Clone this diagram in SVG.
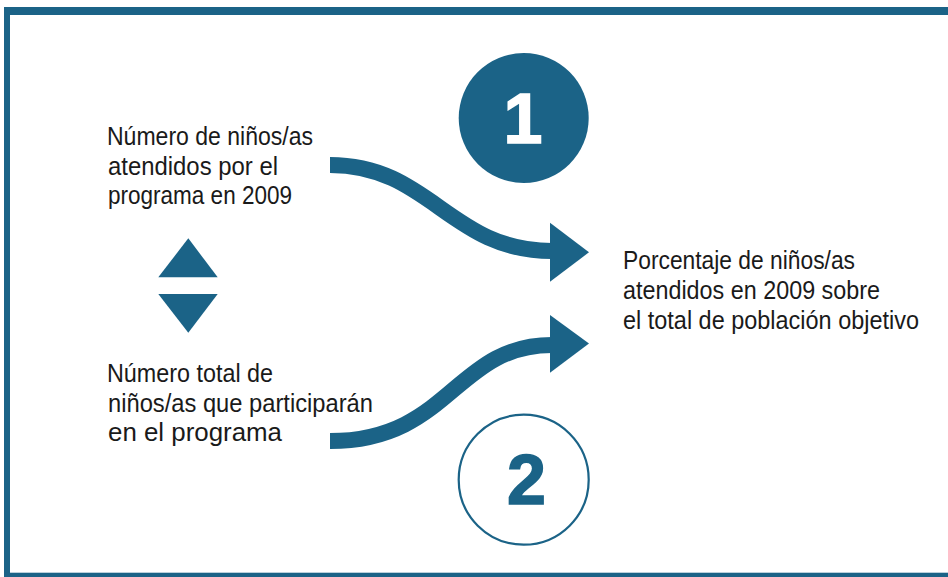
<svg xmlns="http://www.w3.org/2000/svg" width="948" height="577" viewBox="0 0 948 577">
<style>
.t{font-family:"Liberation Sans",Arial,sans-serif;font-size:26px;fill:#1a1a1a}
.b{fill:#1b6387}
.num{font-family:"Liberation Sans",Arial,sans-serif;font-weight:bold;font-size:70px;text-anchor:middle}
.flow{fill:none;stroke:#1b6387;stroke-width:16}
</style>
<rect width="948" height="577" fill="#fff"/>
<g id="frame" class="b">
<rect x="4" y="7" width="944" height="8"/>
<rect x="4" y="7" width="6" height="570"/>
<rect x="4" y="572.7" width="944" height="5"/>
</g>
<g id="connectors">
<path class="flow" d="M330,165 C430,165 450,251 552,251"/>
<polygon class="b" points="550,222.7 589,252.3 550,281.7"/>
<path class="flow" d="M330,441 C450,441 455,345 552,345"/>
<polygon class="b" points="550,315 589,343.5 550,372.7"/>
</g>
<g id="node-numerator">
<text class="t" x="107" y="145" textLength="206" lengthAdjust="spacingAndGlyphs">Número de niños/as</text>
<text class="t" x="108" y="174.5" textLength="170" lengthAdjust="spacingAndGlyphs">atendidos por el</text>
<text class="t" x="108" y="204.3" textLength="184" lengthAdjust="spacingAndGlyphs">programa en 2009</text>
</g>
<g id="node-swap" class="b">
<polygon points="188.3,238.3 217.7,277.3 158.3,277.3"/>
<polygon points="158.3,294 217.7,294 188.3,332.7"/>
</g>
<g id="node-denominator">
<text class="t" x="107" y="381.7" textLength="166" lengthAdjust="spacingAndGlyphs">Número total de</text>
<text class="t" x="108" y="411.7" textLength="265" lengthAdjust="spacingAndGlyphs">niños/as que participarán</text>
<text class="t" x="108" y="441" textLength="174" lengthAdjust="spacingAndGlyphs">en el programa</text>
</g>
<g id="node-result">
<text class="t" x="623" y="269.3" textLength="232" lengthAdjust="spacingAndGlyphs">Porcentaje de niños/as</text>
<text class="t" x="623" y="299.3" textLength="257" lengthAdjust="spacingAndGlyphs">atendidos en 2009 sobre</text>
<text class="t" x="623" y="329.3" textLength="296" lengthAdjust="spacingAndGlyphs">el total de población objetivo</text>
</g>
<g id="node-1">
<circle cx="523.7" cy="118" r="65" class="b"/>
<text class="num" x="523" y="143" fill="#fff" stroke="#fff" stroke-width="1.5">1</text>
</g>
<g id="node-2">
<circle cx="523.7" cy="479.7" r="65" fill="none" stroke="#1b6387" stroke-width="2.2"/>
<text class="num" x="526.5" y="503.5" fill="#1b6387" stroke="#1b6387" stroke-width="1.5">2</text>
</g>
</svg>
